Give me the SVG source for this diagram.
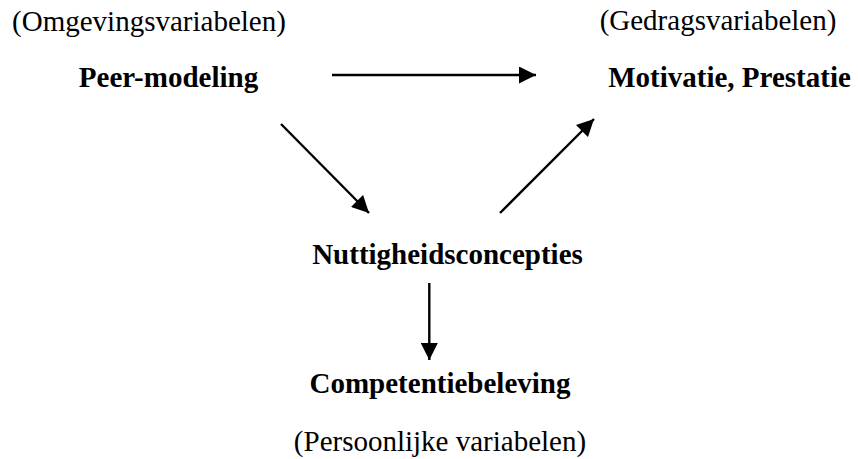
<svg xmlns="http://www.w3.org/2000/svg" width="858" height="459" viewBox="0 0 858 459">
<style>
.lbl{font-family:"Liberation Serif","Times New Roman",serif;font-size:29px;fill:#000;text-anchor:middle}
.b{font-weight:bold}
.c{stroke:#000;stroke-width:2.4;fill:none}
</style>
<defs>
<marker id="ah" viewBox="0 0 17 17" refX="17" refY="8.5" markerWidth="17" markerHeight="17" markerUnits="userSpaceOnUse" orient="auto">
<path d="M0,0 L17,8.5 L0,17 Z" fill="#000"/>
</marker>
</defs>
<rect width="858" height="459" fill="#fff"/>
<g id="label-omgeving"><text class="lbl" x="149" y="31">(Omgevingsvariabelen)</text></g>
<g id="label-gedrag"><text class="lbl" x="718" y="30">(Gedragsvariabelen)</text></g>
<g id="node-peer"><text class="lbl b" x="168.5" y="87">Peer-modeling</text></g>
<g id="node-motivatie"><text class="lbl b" x="729.5" y="87">Motivatie, Prestatie</text></g>
<g id="node-nuttigheid"><text class="lbl b" x="447.5" y="264">Nuttigheidsconcepties</text></g>
<g id="node-competentie"><text class="lbl b" x="440" y="393">Competentiebeleving</text></g>
<g id="label-persoonlijk"><text class="lbl" x="440" y="451">(Persoonlijke variabelen)</text></g>
<g id="connectors">
<line class="c" x1="332" y1="75" x2="536" y2="75" marker-end="url(#ah)"/>
<line class="c" x1="281" y1="124" x2="369" y2="213" marker-end="url(#ah)"/>
<line class="c" x1="500" y1="213" x2="594" y2="119" marker-end="url(#ah)"/>
<line class="c" x1="429.3" y1="283" x2="429.3" y2="360" marker-end="url(#ah)"/>
</g>
</svg>
